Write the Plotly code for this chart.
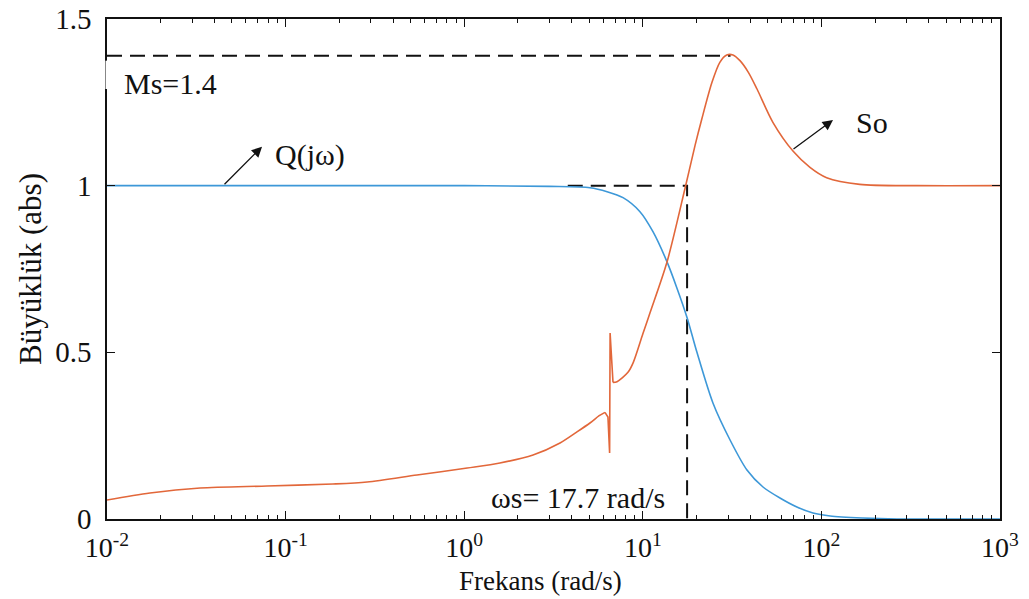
import plotly.graph_objects as go

# ---------------- data ----------------
q_x = [0.01, 1.0, 3.0, 5.06, 6.31, 7.75, 9.64, 11.4, 13.65, 15.5, 17.7, 20.1,
       24.7, 30.8, 38.3, 47.1, 58.6, 72.9, 89.7, 112, 171, 265, 1000]
q_y = [1.0, 1.0, 0.998, 0.994, 0.982, 0.964, 0.922, 0.862, 0.772, 0.694, 0.604, 0.50,
       0.348, 0.237, 0.147, 0.096, 0.063, 0.036, 0.018, 0.009, 0.003, 0.0, 0.0]

so_low_x = [0.01, 0.0174, 0.0332, 0.0787, 0.184, 0.286, 0.544, 1.04, 1.585, 2.43,
            3.44, 4.3, 5.06, 5.7, 6.14]
so_low_y = [0.057, 0.078, 0.093, 0.099, 0.105, 0.111, 0.132, 0.153, 0.168, 0.192,
            0.228, 0.262, 0.288, 0.31, 0.32]

so_spike_x = [6.14, 6.38, 6.52, 6.56, 6.81]
so_spike_y = [0.32, 0.306, 0.198, 0.558, 0.41]

so_high_x = [6.81, 7.17, 8.26, 8.85, 10.0, 11.0, 13.65, 17.2, 19.6, 21.4, 24.4, 27.0,
             29.5, 32.0, 35.0, 39.0, 43.6, 53.5, 69.5, 86.3, 107, 164, 343, 1000]
so_high_y = [0.41, 0.412, 0.44, 0.47, 0.555, 0.62, 0.77, 0.99, 1.12, 1.2, 1.31, 1.37,
             1.392, 1.392, 1.375, 1.34, 1.29, 1.19, 1.103, 1.055, 1.024, 1.004, 1.0, 1.0]

ms_value = 1.39
ms_freq = 31.0
ws_freq = 17.7
ws_level_start = 3.8

x_tick_vals = [0.01, 0.1, 1, 10, 100, 1000]
x_tick_text = ["10<sup>-2</sup>", "10<sup>-1</sup>", "10<sup>0</sup>",
               "10<sup>1</sup>", "10<sup>2</sup>", "10<sup>3</sup>"]
x_minor_vals = [m * 10 ** e for e in range(-2, 3) for m in range(2, 10)]
y_tick_vals = [0, 0.5, 1, 1.5]
y_tick_text = ["0", "0.5", "1", "1.5"]

BLUE = "#3d98d8"
ORANGE = "#e2673a"
FONT = "Times New Roman, Times, Liberation Serif, DejaVu Serif, Noto Serif, serif"
INK = "#111111"
TXT = 30

fig = go.Figure()

# dashed guide lines
fig.add_trace(go.Scatter(x=[0.01, ms_freq], y=[ms_value, ms_value], mode="lines",
                         line=dict(color=INK, width=2, dash="15px,8px"),
                         hoverinfo="skip", showlegend=False))
fig.add_trace(go.Scatter(x=[ws_level_start, ws_freq, ws_freq], y=[1.0, 1.0, 0.0], mode="lines",
                         line=dict(color=INK, width=2, dash="15px,8px"),
                         hoverinfo="skip", showlegend=False))

fig.add_trace(go.Scatter(x=q_x, y=q_y, mode="lines",
                         line=dict(color=BLUE, width=1.6, shape="spline", smoothing=0.8),
                         showlegend=False))
fig.add_trace(go.Scatter(x=so_low_x, y=so_low_y, mode="lines",
                         line=dict(color=ORANGE, width=1.6, shape="spline", smoothing=0.8),
                         showlegend=False))
fig.add_trace(go.Scatter(x=so_spike_x, y=so_spike_y, mode="lines",
                         line=dict(color=ORANGE, width=1.6),
                         showlegend=False))
fig.add_trace(go.Scatter(x=so_high_x, y=so_high_y, mode="lines",
                         line=dict(color=ORANGE, width=1.6, shape="spline", smoothing=0.8),
                         showlegend=False))

# gap in the left axis behind the Ms label (as in the reference)
fig.add_shape(type="line", xref="paper", yref="y", x0=0, x1=0, y0=1.29, y1=1.375,
              line=dict(color="white", width=3), layer="above")

# annotations
fig.add_annotation(x=-1.916, y=1.308, xref="x", yref="y", text="Ms=1.4", showarrow=False,
                   xanchor="left", yanchor="middle", font=dict(family=FONT, size=TXT, color=INK))
fig.add_annotation(x=-0.864, y=1.093, xref="x", yref="y", text="Q(jω)", showarrow=False,
                   yanchor="middle", font=dict(family=FONT, size=TXT, color=INK))
fig.add_annotation(x=-1.132, y=1.117, xref="x", yref="y", text="", showarrow=True,
                   ax=-39, ay=39, arrowhead=2, arrowsize=1.6, arrowwidth=1.3,
                   arrowcolor=INK)
fig.add_annotation(x=2.283, y=1.19, xref="x", yref="y", text="So", showarrow=False,
                   yanchor="middle", font=dict(family=FONT, size=TXT, color=INK))
fig.add_annotation(x=2.065, y=1.197, xref="x", yref="y", text="", showarrow=True,
                   ax=-41, ay=30, arrowhead=2, arrowsize=1.6, arrowwidth=1.3,
                   arrowcolor=INK)
fig.add_annotation(x=0.637, y=0.066, xref="x", yref="y", text="ωs= 17.7 rad/s",
                   showarrow=False, yanchor="middle",
                   font=dict(family=FONT, size=TXT, color=INK))
# x-axis title (placed slightly left of centre, as in the reference)
fig.add_annotation(x=0.485, y=-0.124, xref="paper", yref="paper", text="Frekans (rad/s)",
                   showarrow=False, xanchor="center", yanchor="middle",
                   font=dict(family=FONT, size=27, color=INK))

fig.update_layout(
    width=1029, height=599,
    margin=dict(l=107, r=29, t=19, b=80),
    paper_bgcolor="white", plot_bgcolor="white",
    font=dict(family=FONT, color=INK),
    showlegend=False,
)
fig.update_xaxes(
    type="log", range=[-2, 3], automargin=False,
    tickmode="array", tickvals=x_tick_vals, ticktext=x_tick_text,
    ticks="inside", ticklen=8, tickwidth=1.2, tickcolor=INK,
    minor=dict(tickmode="array", tickvals=x_minor_vals, ticks="inside", ticklen=4,
               tickwidth=1, tickcolor=INK, showgrid=False),
    showline=True, linecolor=INK, linewidth=1.5, mirror="allticks",
    showgrid=False, zeroline=False,
    tickfont=dict(family=FONT, size=28, color=INK),
    ticklabelstandoff=3,
)
fig.update_yaxes(
    range=[0, 1.5], automargin=False,
    tickmode="array", tickvals=y_tick_vals, ticktext=y_tick_text,
    ticks="inside", ticklen=8, tickwidth=1.2, tickcolor=INK,
    showline=True, linecolor=INK, linewidth=1.5, mirror="allticks",
    showgrid=False, zeroline=False,
    tickfont=dict(family=FONT, size=29, color=INK),
    ticklabelstandoff=8,
    title=dict(text="Büyüklük (abs)", font=dict(family=FONT, size=31, color=INK),
               standoff=4),
)

fig.write_html("out.html")
